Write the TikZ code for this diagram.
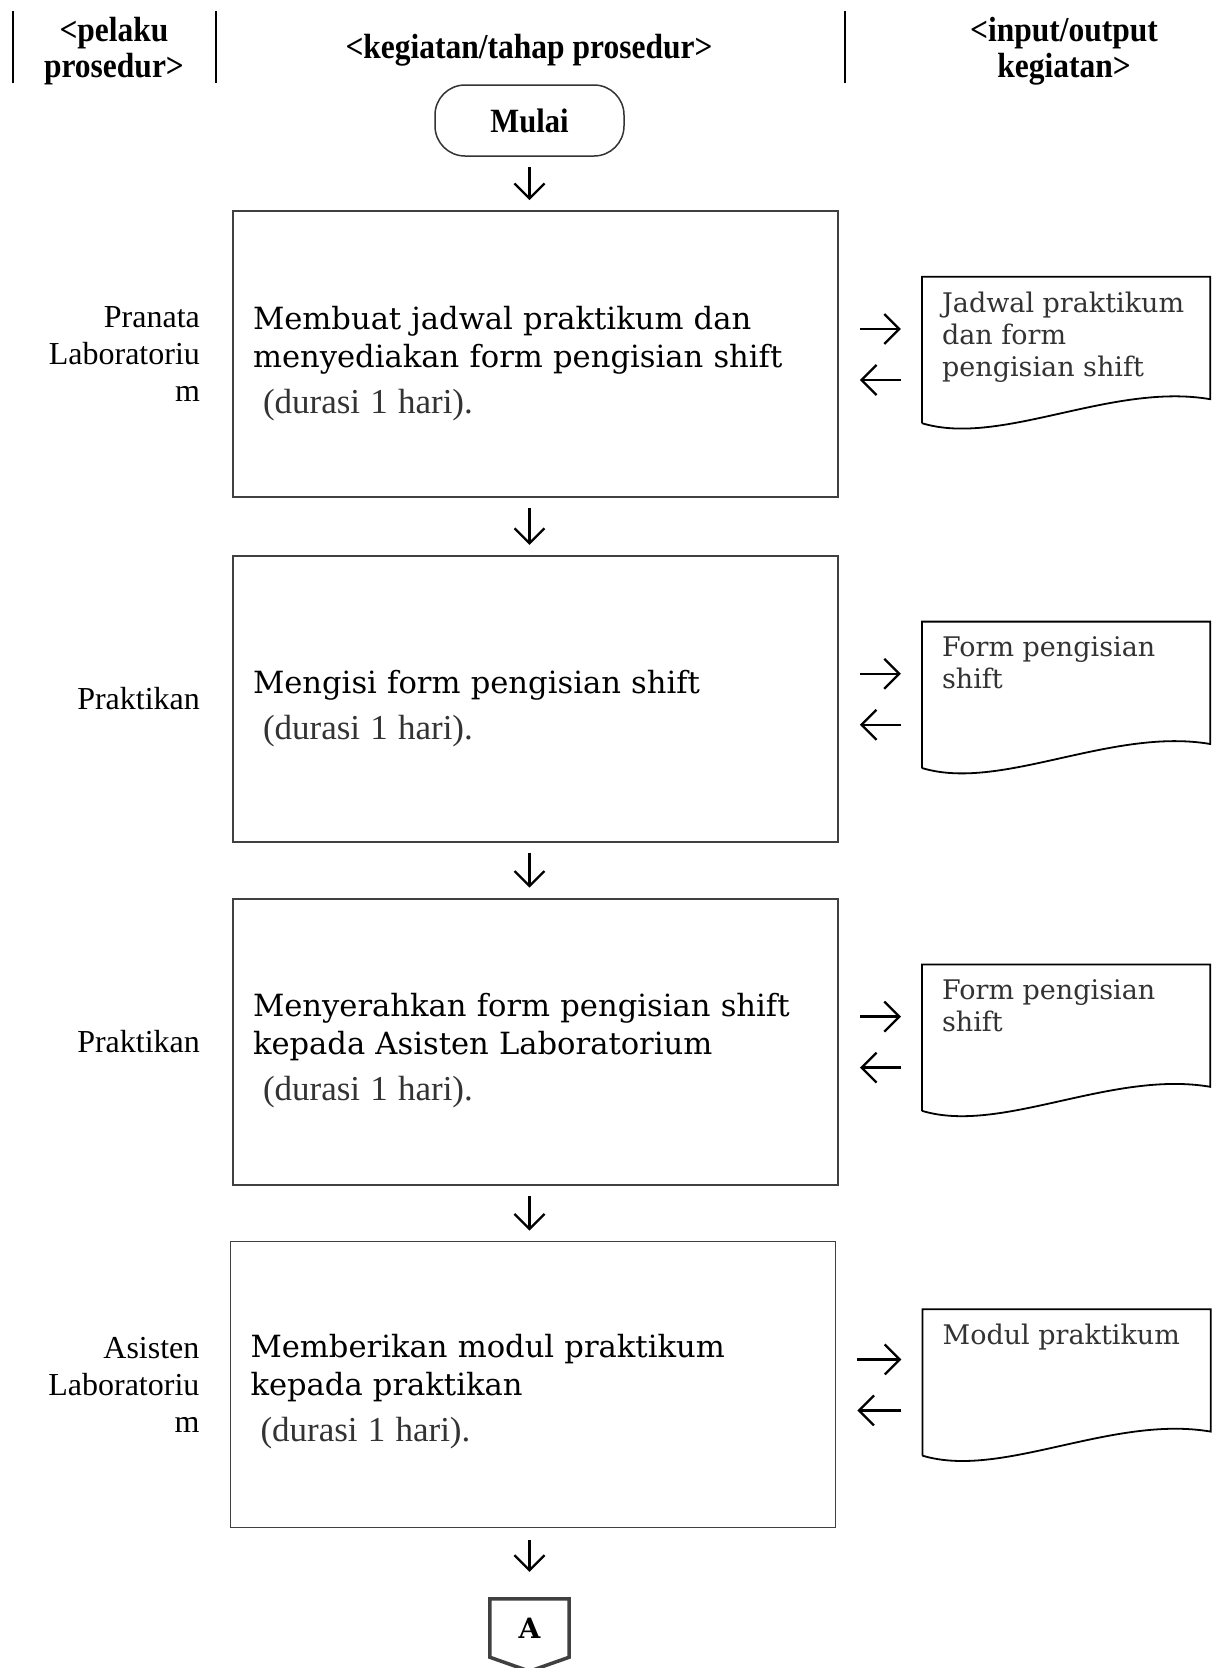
\documentclass[tikz,border=0pt]{standalone}
\usepackage{fontspec}
\setmainfont{Liberation Serif}
\newfontfamily\stepfont{DejaVu Serif}
\newfontfamily\headfont[FakeStretch=0.9]{Liberation Serif}
\usetikzlibrary{positioning,arrows.meta}

\newcommand{\durasi}{\\[8pt]\hspace*{10pt}{\color{black!80}\rmfamily\fontsize{35}{38}\selectfont(durasi 1 hari).}}

\begin{document}
\begin{tikzpicture}[x=1pt,y=-1pt,
  head/.style={align=center,inner sep=0pt,font=\headfont\bfseries\fontsize{35}{36}\selectfont},
  startbox/.style={draw=black!80,line width=1.5pt,rounded corners=30pt,minimum width=189pt,minimum height=71pt,font=\headfont\bfseries\fontsize{34}{36}\selectfont},
  stepbox/.style={draw=black!75,line width=1.8pt,minimum width=605pt,minimum height=286pt,text width=565pt,inner xsep=20pt,align=left,font=\stepfont\fontsize{30.6}{38}\selectfont},
  actor/.style={align=right,inner sep=0pt,font=\fontsize{32}{37}\selectfont},
  docbox/.style={minimum width=288pt,minimum height=146pt,inner sep=0pt},
  doctext/.style={align=left,inner sep=0pt,text=black!80,font=\stepfont\fontsize{27}{32}\selectfont},
  conbox/.style={minimum width=79pt,minimum height=58pt,font=\stepfont\bfseries\fontsize{28}{28}\selectfont},
  flow/.style={-{Straight Barb[length=15pt,width=30pt]},line width=2.3pt,shorten <=10pt,shorten >=10pt}]
\path[use as bounding box,fill=white] (0,0) rectangle (1222,1668);

% header
\draw[line width=2pt] (13,11) -- (13,83) (216,11) -- (216,83) (845,11) -- (845,83);
\node[head] (hpelaku) at (114,51) {<pelaku\\prosedur>};
\node[head] (hkegiatan) at (529,50) {<kegiatan/tahap prosedur>};
\node[head] (hio) at (1064,51) {<input/output\\kegiatan>};

\node[startbox] (mulai) at (529.5,120.5) {Mulai};

\node[stepbox] (s1) at (535.5,354) {\rule{0pt}{42pt}Membuat jadwal praktikum dan\\menyediakan form pengisian shift\durasi};
\node[stepbox,below=57pt of s1] (s2) {\rule{0pt}{42pt}Mengisi form pengisian shift\durasi};
\node[stepbox,below=55pt of s2] (s3) {\rule{0pt}{42pt}Menyerahkan form pengisian shift\\kepada Asisten Laboratorium\durasi};
\node[stepbox,below=55pt of s3,xshift=-2.5pt] (s4) {\rule{0pt}{38pt}Memberikan modul praktikum\\kepada praktikan\durasi};

\node[actor,left=32pt of s1] (a1) {Pranata\\Laboratoriu\\m};
\node[actor,left=32pt of s2] (a2) {Praktikan};
\node[actor,left=32pt of s3] (a3) {Praktikan};
\node[actor,left=30pt of s4] (a4) {Asisten\\Laboratoriu\\m};

\node[docbox,right=83pt of s1,yshift=4pt] (d1) {};
\node[docbox,right=83pt of s2,yshift=4pt] (d2) {};
\node[docbox,right=83pt of s3,yshift=4pt] (d3) {};
\node[docbox,right=86pt of s4,yshift=2pt] (d4) {};
\node[doctext,anchor=north west] (t1) at ([xshift=20pt,yshift=-15pt]d1.north west) {Jadwal praktikum\\dan form\\pengisian shift};
\node[doctext,anchor=north west] (t2) at ([xshift=20pt,yshift=-15pt]d2.north west) {Form pengisian\\shift};
\node[doctext,anchor=north west] (t3) at ([xshift=20pt,yshift=-15pt]d3.north west) {Form pengisian\\shift};
\node[doctext,anchor=north west] (t4) at ([xshift=20pt,yshift=-15pt]d4.north west) {Modul praktikum};

\foreach \d in {d1,d2,d3,d4}
  \draw[line width=1.8pt] (\d.south west) -- (\d.north west) -- (\d.north east) -- ([yshift=24pt]\d.south east)
    .. controls ([xshift=-99pt,yshift=41pt]\d.south east) and ([xshift=79pt,yshift=-24pt]\d.south west) .. (\d.south west);

\node[conbox] (conA) at (529.5,1628) {A};
\draw[line width=3.5pt,draw=black!75] (conA.south west) -- (conA.north west) -- (conA.north east) -- (conA.south east) -- ([yshift=-14pt]conA.south) -- cycle;

\draw[flow] (mulai) -- (s1.north -| mulai);
\draw[flow] (s1.south -| mulai) -- (s2.north -| mulai);
\draw[flow] (s2.south -| mulai) -- (s3.north -| mulai);
\draw[flow] (s3.south -| mulai) -- (s4.north -| mulai);
\draw[flow,shorten <=12pt,shorten >=27pt] (s4.south -| mulai) -- (conA.north);

\foreach \i in {1,...,4} {
  \draw[flow,shorten <=21pt,shorten >=21pt] ([yshift=25pt]s\i.east) -- ([yshift=25pt]s\i.east -| d\i.west);
  \draw[flow,shorten <=21pt,shorten >=21pt] ([yshift=-26pt]s\i.east -| d\i.west) -- ([yshift=-26pt]s\i.east);
}
\end{tikzpicture}
\end{document}
